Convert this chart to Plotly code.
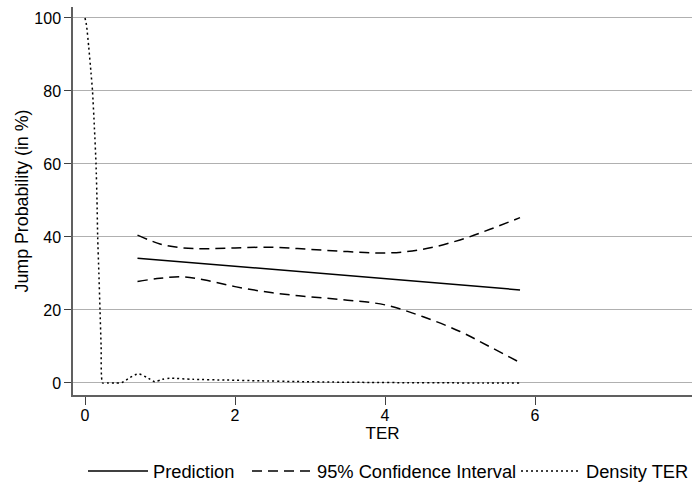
import plotly.graph_objects as go

# ---- data ----
pred_x = [0.7, 5.8]
pred_y = [34.2, 25.5]

ci_x = [0.7, 1.0, 1.3, 1.6, 2.0, 2.5, 3.0, 3.5, 4.0, 4.5, 5.0, 5.4, 5.8]
ci_upper = [40.5, 38.1, 37.0, 36.8, 37.0, 37.2, 36.6, 36.0, 35.6, 36.6, 39.2, 42.1, 45.3]
ci_lower = [27.8, 28.7, 29.1, 28.2, 26.4, 24.7, 23.6, 22.7, 21.4, 18.2, 14.1, 9.9, 5.6]

dens_x = [0, 0.02, 0.05, 0.08, 0.1, 0.125, 0.147, 0.16, 0.169, 0.185, 0.2, 0.215, 0.235,
          0.3, 0.4, 0.49, 0.6, 0.71, 0.82, 0.93, 1.03, 1.13, 1.44, 1.89, 2.33, 2.8,
          3.3, 3.8, 4.3, 4.8, 5.3, 5.8]
dens_y = [100, 98, 92, 85, 80, 70, 60, 50, 40, 30, 20, 10, 0,
          0, 0, 0.1, 1.5, 2.5, 1.6, 0.35, 1.0, 1.3, 1.0, 0.8, 0.6, 0.4,
          0.25, 0.15, 0.08, 0.04, 0.02, 0.0]

y_ticks = [0, 20, 40, 60, 80, 100]
x_ticks = [0, 2, 4, 6]

FONT = "Liberation Sans, Arial, sans-serif"
W, H = 692, 483
ML, MR, MT, MB = 73, 0, 7, 88
PW = W - ML - MR
PH = H - MT - MB


def px_x(p):
    return (p - ML) / PW


def px_y(p):
    return (H - MB - p) / PH


fig = go.Figure()
fig.add_trace(go.Scatter(x=pred_x, y=pred_y, mode="lines", name="Prediction",
                         line=dict(color="black", width=1.5), legend="legend",
                         showlegend=True))
fig.add_trace(go.Scatter(x=ci_x, y=ci_upper, mode="lines", name="95% Confidence Interval",
                         line=dict(color="black", width=1.5, dash="10px,6px", shape="spline"),
                         legend="legend2", showlegend=True))
fig.add_trace(go.Scatter(x=ci_x, y=ci_lower, mode="lines", name="95% Confidence Interval",
                         line=dict(color="black", width=1.5, dash="10px,6px", shape="spline"),
                         showlegend=False, legend="legend2"))
fig.add_trace(go.Scatter(x=dens_x, y=dens_y, mode="lines", name="Density TER",
                         line=dict(color="black", width=1.5, dash="2px,3px", shape="spline",
                                   smoothing=0.6),
                         legend="legend3", showlegend=True))

leg_common = dict(orientation="h", xanchor="left", yanchor="middle",
                  bgcolor="rgba(0,0,0,0)", borderwidth=0, itemwidth=60,
                  font=dict(family=FONT, size=18.3, color="black"),
                  xref="paper", yref="paper", visible=True)

fig.update_layout(
    width=W, height=H,
    showlegend=True,
    margin=dict(l=ML, r=MR, t=MT, b=MB, pad=0, autoexpand=False),
    paper_bgcolor="white", plot_bgcolor="white",
    font=dict(family=FONT, color="black"),
    legend=dict(x=px_x(83), y=px_y(471), **leg_common),
    legend2=dict(x=px_x(247), y=px_y(471), **leg_common),
    legend3=dict(x=px_x(516), y=px_y(471), **leg_common),
    xaxis=dict(range=[-0.16, 8.093], tickvals=x_ticks, ticktext=[str(v) for v in x_ticks],
               showgrid=False, zeroline=False, showline=True, linecolor="#606060",
               linewidth=1.5, ticks="outside", ticklen=8, tickwidth=1.3, tickcolor="#404040",
               ticklabelstandoff=-3,
               tickfont=dict(family=FONT, size=16, color="black"),
               title=dict(text="TER", font=dict(family=FONT, size=17, color="black"),
                          standoff=4)),
    yaxis=dict(range=[-3.29, 103.01], tickvals=y_ticks, ticktext=[str(v) for v in y_ticks],
               showgrid=True, gridcolor="#b0b0b0", gridwidth=1.3, zeroline=False,
               showline=True, linecolor="#606060", linewidth=1.5, ticks="outside",
               ticklen=7, tickwidth=1.3, tickcolor="#404040",
               tickfont=dict(family=FONT, size=16, color="black"),
               title=dict(text="Jump Probability (in %)",
                          font=dict(family=FONT, size=17.8, color="black"), standoff=1)),
)

fig.write_html("out.html")
